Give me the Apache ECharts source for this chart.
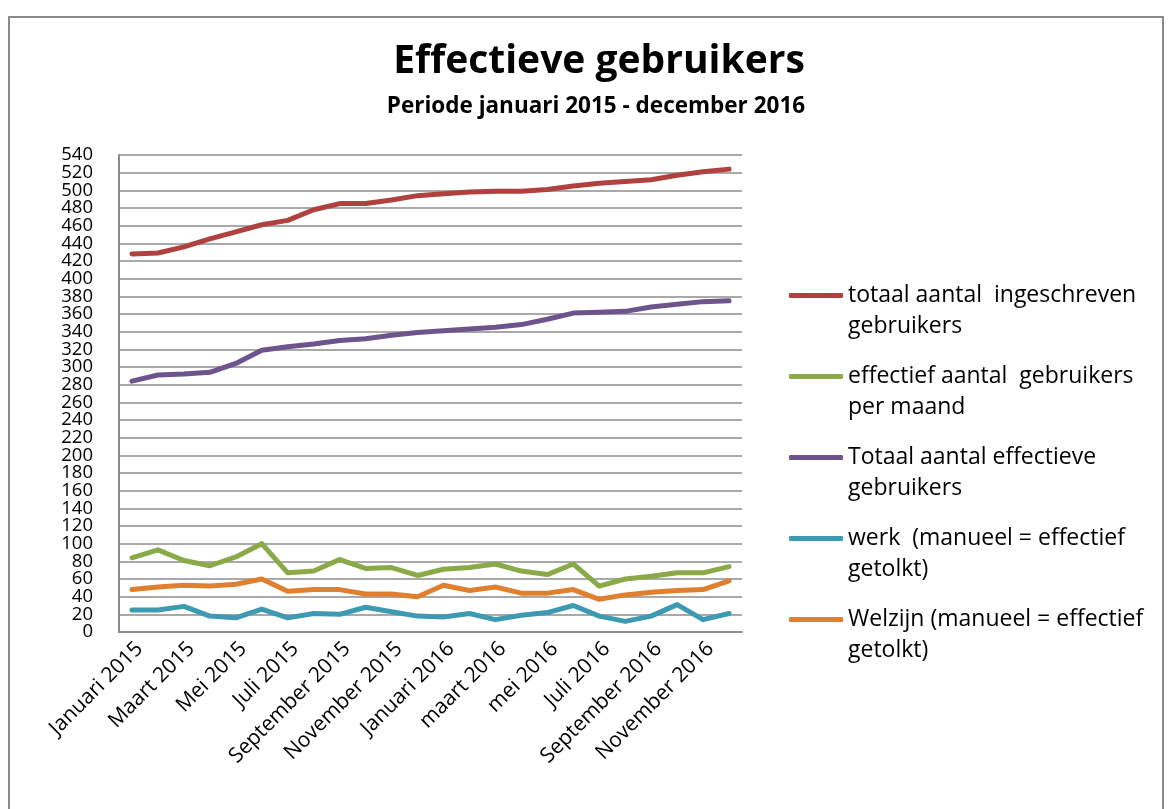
<!DOCTYPE html>
<html>
<head>
<meta charset="utf-8">
<title>Effectieve gebruikers</title>
<script src="https://cdn.jsdelivr.net/npm/echarts@6/dist/echarts.min.js"></script>
<style>
  html, body { margin: 0; padding: 0; background: #ffffff; }
  #chart { width: 1169px; height: 809px; }
</style>
</head>
<body>
<div id="chart"></div>
<script>
// Months January 2015 – December 2016
const months = [
  'Januari 2015', 'Februari 2015', 'Maart 2015', 'April 2015', 'Mei 2015', 'Juni 2015',
  'Juli 2015', 'Augustus 2015', 'September 2015', 'Oktober 2015', 'November 2015', 'December 2015',
  'Januari 2016', 'februari 2016', 'maart 2016', 'april 2016', 'mei 2016', 'juni 2016',
  'Juli 2016', 'Augustus 2016', 'September 2016', 'Oktober 2016', 'November 2016', 'December 2016'
];

const seriesNames = [
  'totaal aantal  ingeschreven gebruikers',
  'effectief aantal  gebruikers per maand',
  'Totaal aantal effectieve gebruikers',
  'werk  (manueel = effectief getolkt)',
  'Welzijn (manueel = effectief getolkt)'
];

// Wrapped legend text, one entry per series
const legendLabels = [
  'totaal aantal  ingeschreven\ngebruikers',
  'effectief aantal  gebruikers\nper maand',
  'Totaal aantal effectieve\ngebruikers',
  'werk  (manueel = effectief\ngetolkt)',
  'Welzijn (manueel = effectief\ngetolkt)'
];

const totaalIngeschreven = [428, 429, 436, 445, 453, 461, 466, 478, 485, 485, 489, 494,
                            496, 498, 499, 499, 501, 505, 508, 510, 512, 517, 521, 524];
const effectiefPerMaand  = [84, 93, 81, 75, 85, 100, 67, 69, 82, 72, 73, 64,
                            71, 73, 77, 69, 65, 77, 52, 60, 63, 67, 67, 74];
const totaalEffectief    = [284, 291, 292, 294, 304, 319, 323, 326, 330, 332, 336, 339,
                            341, 343, 345, 348, 354, 361, 362, 363, 368, 371, 374, 375];
const werk               = [25, 25, 29, 18, 16, 26, 16, 21, 20, 28, 23, 18,
                            17, 21, 14, 19, 22, 30, 18, 12, 18, 31, 14, 21];
const welzijn            = [48, 51, 53, 52, 54, 60, 46, 48, 48, 43, 43, 40,
                            53, 47, 51, 44, 44, 48, 37, 42, 45, 47, 48, 58];

const yTicks = { min: 0, max: 540, step: 20 };

const colors = ['#B0413E', '#8AAA48', '#6E548D', '#3D9AB2', '#E0802F'];
const values = [totaalIngeschreven, effectiefPerMaand, totaalEffectief, werk, welzijn];

const font = '"Open Sans", "Noto Sans", sans-serif';
const gridColor = '#8c8c8c';
const tickLabelStyle = { fontFamily: font, fontSize: 18.5, color: '#000000', margin: 26 };

const chart = echarts.init(document.getElementById('chart'), null, { renderer: 'canvas' });

chart.setOption({
  animation: false,
  backgroundColor: '#ffffff',
  color: colors,
  graphic: [{
    type: 'rect',
    shape: { x: 9, y: 17, width: 1154, height: 820 },
    style: { fill: 'none', stroke: '#8a8a8a', lineWidth: 2 },
    silent: true
  }],
  title: [{
    text: 'Effectieve gebruikers',
    left: 599, top: 40, padding: 0, textAlign: 'center',
    textStyle: { fontFamily: font, fontWeight: 'bold', fontSize: 39, lineHeight: 44, color: '#000000' }
  }, {
    text: 'Periode januari 2015 - december 2016',
    left: 596, top: 93, padding: 0, textAlign: 'center',
    textStyle: { fontFamily: font, fontWeight: 'bold', fontSize: 22.5, lineHeight: 28, color: '#000000' }
  }],
  grid: { left: 119, right: 427, top: 155, bottom: 177, containLabel: false },
  legend: {
    orient: 'vertical',
    left: 784, top: 244,
    itemWidth: 54, itemHeight: 5,
    itemGap: -12,
    icon: 'roundRect',
    data: seriesNames,
    // leading empty line keeps the icon level with the first text line
    formatter: name => '\n' + legendLabels[seriesNames.indexOf(name)],
    textStyle: { fontFamily: font, fontSize: 23, lineHeight: 31, color: '#000000' }
  },
  xAxis: {
    type: 'category',
    data: months,
    boundaryGap: true,
    axisLine: { lineStyle: { color: gridColor, width: 2 } },
    axisTick: { show: false },
    axisLabel: {
      interval: 1, rotate: 45, margin: 6, verticalAlign: 'top',
      fontFamily: font, fontSize: 21, color: '#000000'
    },
    splitLine: { show: false }
  },
  yAxis: [{
    // main value axis: grid lines and the inner tick labels 20 … 520
    type: 'value', position: 'left',
    min: yTicks.min, max: yTicks.max, interval: yTicks.step,
    axisLine: { show: true, lineStyle: { color: gridColor, width: 2 } },
    axisTick: { show: false },
    axisLabel: Object.assign({ showMinLabel: false, showMaxLabel: false }, tickLabelStyle),
    splitLine: { lineStyle: { color: gridColor, width: 1.5 } }
  }, {
    // same scale, carries the end labels 0 and 540
    type: 'value', position: 'left', offset: 0,
    min: yTicks.min, max: yTicks.max, interval: yTicks.step,
    axisLine: { show: false },
    axisTick: { show: false },
    splitLine: { show: false },
    axisLabel: Object.assign({
      showMinLabel: true, showMaxLabel: true,
      formatter: v => (v === yTicks.min || v === yTicks.max) ? String(v) : ''
    }, tickLabelStyle)
  }],
  series: seriesNames.map((name, i) => ({
    name: name,
    type: 'line',
    yAxisIndex: 0,
    data: values[i],
    symbol: 'none',
    smooth: false,
    lineStyle: { width: 5, color: colors[i], cap: 'round', join: 'round' },
    itemStyle: { color: colors[i] }
  }))
});
</script>
</body>
</html>
